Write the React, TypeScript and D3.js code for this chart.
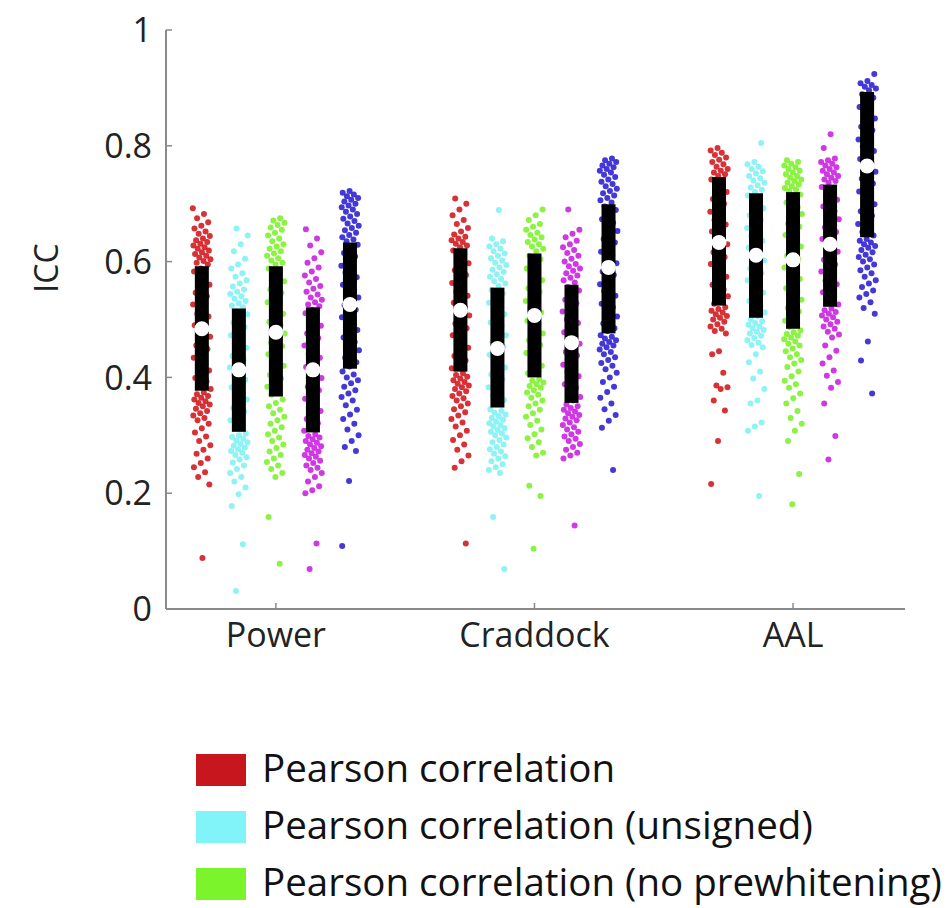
import { useEffect } from "react";
import * as d3 from "d3";

// Categories and series
const GROUPS = ["Power", "Craddock", "AAL"];
const SERIES_COLORS = ["#d0161b", "#7ff0f4", "#7cf02a", "#c81ee0", "#2a1ed2"];
const LEGEND_LABELS = [
	"Pearson correlation",
	"Pearson correlation (unsigned)",
	"Pearson correlation (no prewhitening)"
];
const LEGEND_COLORS = ["#c8161e", "#80f4f8", "#7cf42c"];
const Y_TICKS = [0, 0.2, 0.4, 0.6, 0.8, 1];
const Y_TICK_LABELS = ["0", "0.2", "0.4", "0.6", "0.8", "1"];

// Per-edge ICC values (Power)
const powerRed = [
	.692, .682, .675, .668, .662, .657, .652, .648, .644, .64, .637, .634, .631, .628, .625, .622, .619, .616, .613, .61, .607, .604, .601, .598, .595,
	.588, .583, .574, .569, .56, .554, .546, .54, .532, .526, .518, .51, .505, .497, .49, .482, .476, .47, .462, .455, .449, .441, .434, .428, .42, .412, .406, .399, .393, .385, .38,
	.374, .371, .368, .365, .362, .359, .356, .353, .35, .346, .342, .338, .334, .33, .326, .32, .312, .305, .298, .29, .283, .275, .268, .26, .252, .245, .236, .228, .215, .088
];
const powerCyan = [
	.657, .645, .63, .618, .605, .595, .588, .58, .574, .568, .562, .557, .552, .548, .544, .54, .536, .532, .528, .524, .521,
	.515, .509, .501, .495, .487, .481, .473, .467, .459, .451, .445, .437, .431, .425, .417, .41, .404, .396, .389, .383, .375, .368, .362, .354, .347, .341, .333, .326, .318, .312,
	.303, .3, .297, .294, .291, .288, .285, .282, .279, .276, .273, .27, .266, .262, .258, .253, .248, .242, .235, .228, .22, .21, .198, .178, .112, .031
];
const powerGreen = [
	.675, .671, .667, .663, .659, .655, .65, .645, .64, .635, .63, .626, .622, .618, .614, .61, .606, .602, .598, .595,
	.588, .58, .574, .566, .558, .552, .546, .538, .53, .524, .518, .51, .502, .496, .49, .482, .476, .468, .46, .454, .448, .44, .432, .426, .42, .412, .404, .398, .392, .384, .376, .37,
	.362, .356, .35, .344, .338, .332, .326, .32, .314, .308, .302, .296, .29, .284, .278, .272, .266, .26, .254, .248, .242, .235, .228, .159, .078
];
const powerMagenta = [
	.656, .64, .628, .616, .606, .598, .59, .583, .576, .57, .564, .558, .553, .548, .543, .538, .534, .53, .526, .523,
	.517, .511, .503, .497, .489, .482, .476, .468, .46, .455, .447, .44, .434, .426, .418, .412, .405, .399, .391, .384, .378, .37, .363, .357, .349, .342, .336, .328, .321, .315, .308,
	.302, .299, .296, .293, .29, .287, .284, .281, .278, .275, .272, .269, .266, .263, .26, .256, .252, .248, .244, .24, .235, .228, .22, .212, .205, .2, .113, .069
];
const powerBlue = [
	.722, .719, .716, .713, .71, .707, .704, .7, .697, .694, .69, .686, .682, .678, .674, .67, .666, .662, .658, .654, .65, .646, .642, .638, .635,
	.629, .621, .615, .609, .601, .593, .587, .581, .573, .566, .56, .552, .544, .538, .531, .525, .517, .51, .504, .496, .488, .482, .475, .469, .461, .453, .447, .44, .434, .426, .419,
	.41, .405, .4, .395, .39, .384, .378, .372, .366, .36, .352, .344, .336, .328, .32, .31, .3, .29, .28, .273, .221, .109
];

// Craddock
const craddockRed = [
	.709, .7, .69, .68, .672, .665, .658, .652, .647, .643, .64, .637, .634, .631, .628, .625,
	.619, .613, .605, .597, .591, .585, .577, .569, .563, .557, .549, .541, .535, .529, .521, .513, .507, .501, .493, .485, .479, .473, .465, .457, .451, .445, .437, .429, .423, .416,
	.407, .404, .401, .398, .395, .392, .389, .386, .383, .38, .376, .372, .368, .364, .36, .355, .35, .345, .34, .334, .328, .322, .315, .308, .3, .292, .284, .275, .265, .255, .244, .113
];
const craddockCyan = [
	.689, .64, .635, .63, .626, .622, .618, .614, .61, .606, .602, .598, .594, .59, .586, .582, .578, .574, .57, .566, .562, .558,
	.551, .545, .537, .529, .523, .517, .509, .501, .495, .489, .481, .473, .467, .461, .453, .445, .439, .433, .425, .417, .411, .405, .397, .389, .383, .377, .369, .361, .355,
	.345, .342, .339, .336, .333, .33, .327, .324, .321, .318, .315, .312, .309, .306, .303, .3, .296, .292, .288, .284, .28, .276, .272, .268, .264, .26, .255, .25, .245, .24, .235, .159, .069
];
const craddockGreen = [
	.69, .68, .672, .665, .66, .655, .65, .646, .642, .638, .634, .63, .626, .622, .618,
	.61, .604, .596, .588, .582, .576, .568, .56, .554, .548, .54, .532, .526, .52, .512, .504, .498, .492, .484, .476, .47, .464, .456, .448, .442, .436, .428, .42, .414, .407,
	.397, .394, .391, .388, .385, .382, .378, .374, .37, .365, .36, .355, .35, .344, .338, .332, .325, .318, .31, .302, .295, .288, .28, .27, .265, .213, .195, .104
];
const craddockMagenta = [
	.69, .655, .648, .642, .636, .63, .625, .62, .615, .61, .605, .6, .596, .592, .588, .584, .58, .576, .572, .568, .564,
	.556, .55, .542, .534, .528, .522, .514, .506, .5, .494, .486, .478, .472, .466, .458, .45, .444, .438, .43, .422, .416, .41, .402, .394, .388, .382, .374, .366, .36,
	.353, .35, .347, .344, .341, .338, .335, .332, .329, .326, .322, .318, .314, .31, .306, .302, .298, .294, .29, .285, .28, .275, .27, .265, .26, .144
];
const craddockBlue = [
	.778, .775, .772, .769, .766, .763, .76, .757, .754, .75, .746, .742, .738, .734, .73, .726, .722, .718, .714, .71, .706, .702,
	.695, .689, .681, .673, .667, .661, .653, .645, .639, .633, .625, .617, .611, .605, .597, .589, .583, .577, .569, .561, .555, .549, .541, .533, .527, .521, .513, .505, .499, .493, .485, .48,
	.473, .47, .467, .464, .461, .458, .455, .452, .448, .444, .44, .435, .43, .425, .42, .414, .408, .4, .392, .384, .375, .365, .355, .345, .335, .325, .313, .24
];

// AAL
const aalRed = [
	.796, .792, .788, .784, .78, .776, .772, .768, .764, .76, .757, .754, .751, .748,
	.742, .736, .728, .72, .714, .708, .7, .692, .686, .68, .672, .664, .658, .652, .644, .636, .63, .624, .616, .608, .602, .596, .588, .58, .574, .568, .56, .552, .546, .54, .532, .527,
	.521, .518, .515, .512, .509, .506, .503, .5, .496, .492, .488, .484, .48, .476, .445, .44, .408, .386, .383, .38, .36, .343, .29, .216
];
const aalCyan = [
	.805, .772, .768, .764, .76, .756, .752, .748, .744, .74, .736, .732, .728, .724, .72,
	.714, .708, .7, .692, .686, .68, .672, .664, .658, .652, .644, .636, .63, .624, .616, .608, .602, .596, .588, .58, .574, .568, .56, .552, .546, .54, .532, .524, .518, .512, .506,
	.5, .497, .494, .491, .488, .485, .482, .479, .476, .472, .468, .464, .46, .456, .452, .44, .426, .41, .398, .38, .36, .355, .322, .315, .308, .195
];
const aalGreen = [
	.775, .772, .769, .766, .763, .76, .757, .754, .751, .748, .745, .742, .739, .736, .733, .73, .727, .724, .722,
	.716, .71, .702, .694, .688, .682, .674, .666, .66, .654, .646, .638, .632, .626, .618, .61, .604, .598, .59, .582, .576, .57, .562, .554, .548, .542, .534, .526, .52, .514, .506, .498, .492, .487,
	.481, .478, .475, .472, .469, .466, .462, .458, .455, .45, .445, .44, .435, .43, .424, .418, .41, .402, .394, .388, .382, .372, .364, .355, .342, .33, .32, .308, .29, .233, .181
];
const aalMagenta = [
	.82, .796, .778, .775, .772, .769, .766, .763, .76, .757, .754, .751, .748, .745, .742, .739, .736,
	.729, .723, .715, .707, .701, .695, .687, .679, .673, .667, .659, .651, .645, .639, .631, .623, .617, .611, .603, .595, .589, .583, .575, .567, .561, .555, .547, .539, .533, .526,
	.519, .516, .513, .51, .507, .504, .5, .496, .492, .488, .484, .479, .474, .469, .455, .446, .435, .424, .412, .403, .392, .382, .355, .299, .258
];
const aalBlue = [
	.924, .912, .908, .905, .902, .899, .896,
	.889, .883, .875, .867, .861, .855, .847, .839, .833, .827, .819, .811, .805, .799, .791, .783, .777, .771, .763, .755, .749, .743, .735, .727, .721, .715, .707, .699, .693, .687, .679, .671, .665, .659, .651, .645,
	.639, .636, .633, .63, .627, .624, .62, .616, .612, .608, .604, .6, .595, .59, .585, .58, .574, .568, .562, .556, .55, .544, .538, .53, .52, .51, .462, .429, .372
];

const VALUES = [
	[powerRed, powerCyan, powerGreen, powerMagenta, powerBlue],
	[craddockRed, craddockCyan, craddockGreen, craddockMagenta, craddockBlue],
	[aalRed, aalCyan, aalGreen, aalMagenta, aalBlue]
];

// Box summary (median and interquartile range) per group / series
const MEDIANS = [
	[0.484, 0.413, 0.478, 0.413, 0.526],
	[0.516, 0.45, 0.507, 0.46, 0.59],
	[0.633, 0.611, 0.603, 0.63, 0.765]
];
const Q1 = [
	[0.377, 0.306, 0.367, 0.305, 0.415],
	[0.41, 0.348, 0.4, 0.356, 0.476],
	[0.524, 0.503, 0.484, 0.522, 0.642]
];
const Q3 = [
	[0.592, 0.519, 0.592, 0.521, 0.633],
	[0.623, 0.555, 0.614, 0.56, 0.699],
	[0.746, 0.718, 0.72, 0.733, 0.893]
];

const FONT = "'Open Sans', sans-serif";

export default function App() {
	useEffect(() => {
		document.body.style.margin = "0";
	}, []);

	const width = 947;
	const height = 908;

	// x: groups sit at 1, 2, 3
	const x = d3.scaleLinear().domain([0.575, 3.433]).range([166, 905]);
	const y = d3.scaleLinear().domain([0, 1]).range([609, 30]);
	const seriesStep = 0.1432;
	const jitter = 9;
	const barW = 14;
	const axisColor = "#8a8a8a";

	const colX = (g: number, s: number) => x(g + 1 + (s - 2) * seriesStep);

	return (
		<svg width={width} height={height} style={{ display: "block", background: "#fff" }}>
			{/* jittered points */}
			{VALUES.map((group, g) =>
				group.map((vals, s) =>
					vals.map((v, i) => {
						const off = (((i * 0.618034 + s * 0.37 + g * 0.21) % 1) - 0.5) * 2 * jitter;
						return (
							<circle
								key={`p-${g}-${s}-${i}`}
								cx={colX(g, s) + off}
								cy={y(v)}
								r={3}
								fill={SERIES_COLORS[s]}
								opacity={0.88}
							/>
						);
					})
				)
			)}

			{/* interquartile bars */}
			{Q1.map((row, g) =>
				row.map((q1, s) => (
					<rect
						key={`b-${g}-${s}`}
						x={colX(g, s) - barW / 2}
						y={y(Q3[g][s])}
						width={barW}
						height={y(q1) - y(Q3[g][s])}
						fill="#000"
					/>
				))
			)}

			{/* medians */}
			{MEDIANS.map((row, g) =>
				row.map((m, s) => (
					<circle key={`m-${g}-${s}`} cx={colX(g, s)} cy={y(m)} r={7.5} fill="#fff" />
				))
			)}

			{/* axes */}
			<line x1={x.range()[0]} x2={x.range()[0]} y1={y(0)} y2={y(1)} stroke={axisColor} strokeWidth={2} />
			<line x1={x.range()[0]} x2={x.range()[1]} y1={y(0)} y2={y(0)} stroke={axisColor} strokeWidth={2} />
			{Y_TICKS.map((t, i) => (
				<g key={`yt-${i}`}>
					<line x1={x.range()[0]} x2={x.range()[0] + 6} y1={y(t)} y2={y(t)} stroke={axisColor} strokeWidth={1.5} />
					<text
						x={152}
						y={y(t)}
						dy="0.36em"
						textAnchor="end"
						fontFamily={FONT}
						fontSize={34}
						fill="#222"
					>
						{Y_TICK_LABELS[i]}
					</text>
				</g>
			))}
			{GROUPS.map((name, g) => (
				<g key={`xt-${g}`}>
					<line x1={x(g + 1)} x2={x(g + 1)} y1={y(0)} y2={y(0) - 6} stroke={axisColor} strokeWidth={1.5} />
					<text
						x={x(g + 1)}
						y={647}
						textAnchor="middle"
						fontFamily={FONT}
						fontSize={34}
						fill="#222"
					>
						{name}
					</text>
				</g>
			))}
			<text
				transform={`translate(58,268) rotate(-90)`}
				textAnchor="middle"
				fontFamily={FONT}
				fontSize={32}
				fill="#222"
			>
				ICC
			</text>

			{/* legend */}
			{LEGEND_LABELS.map((label, i) => (
				<g key={`lg-${i}`} transform={`translate(196,${754 + i * 57})`}>
					<rect width={50} height={32} fill={LEGEND_COLORS[i]} />
					<text x={66} y={28} fontFamily={FONT} fontSize={38.5} fill="#111">
						{label}
					</text>
				</g>
			))}
		</svg>
	);
}
